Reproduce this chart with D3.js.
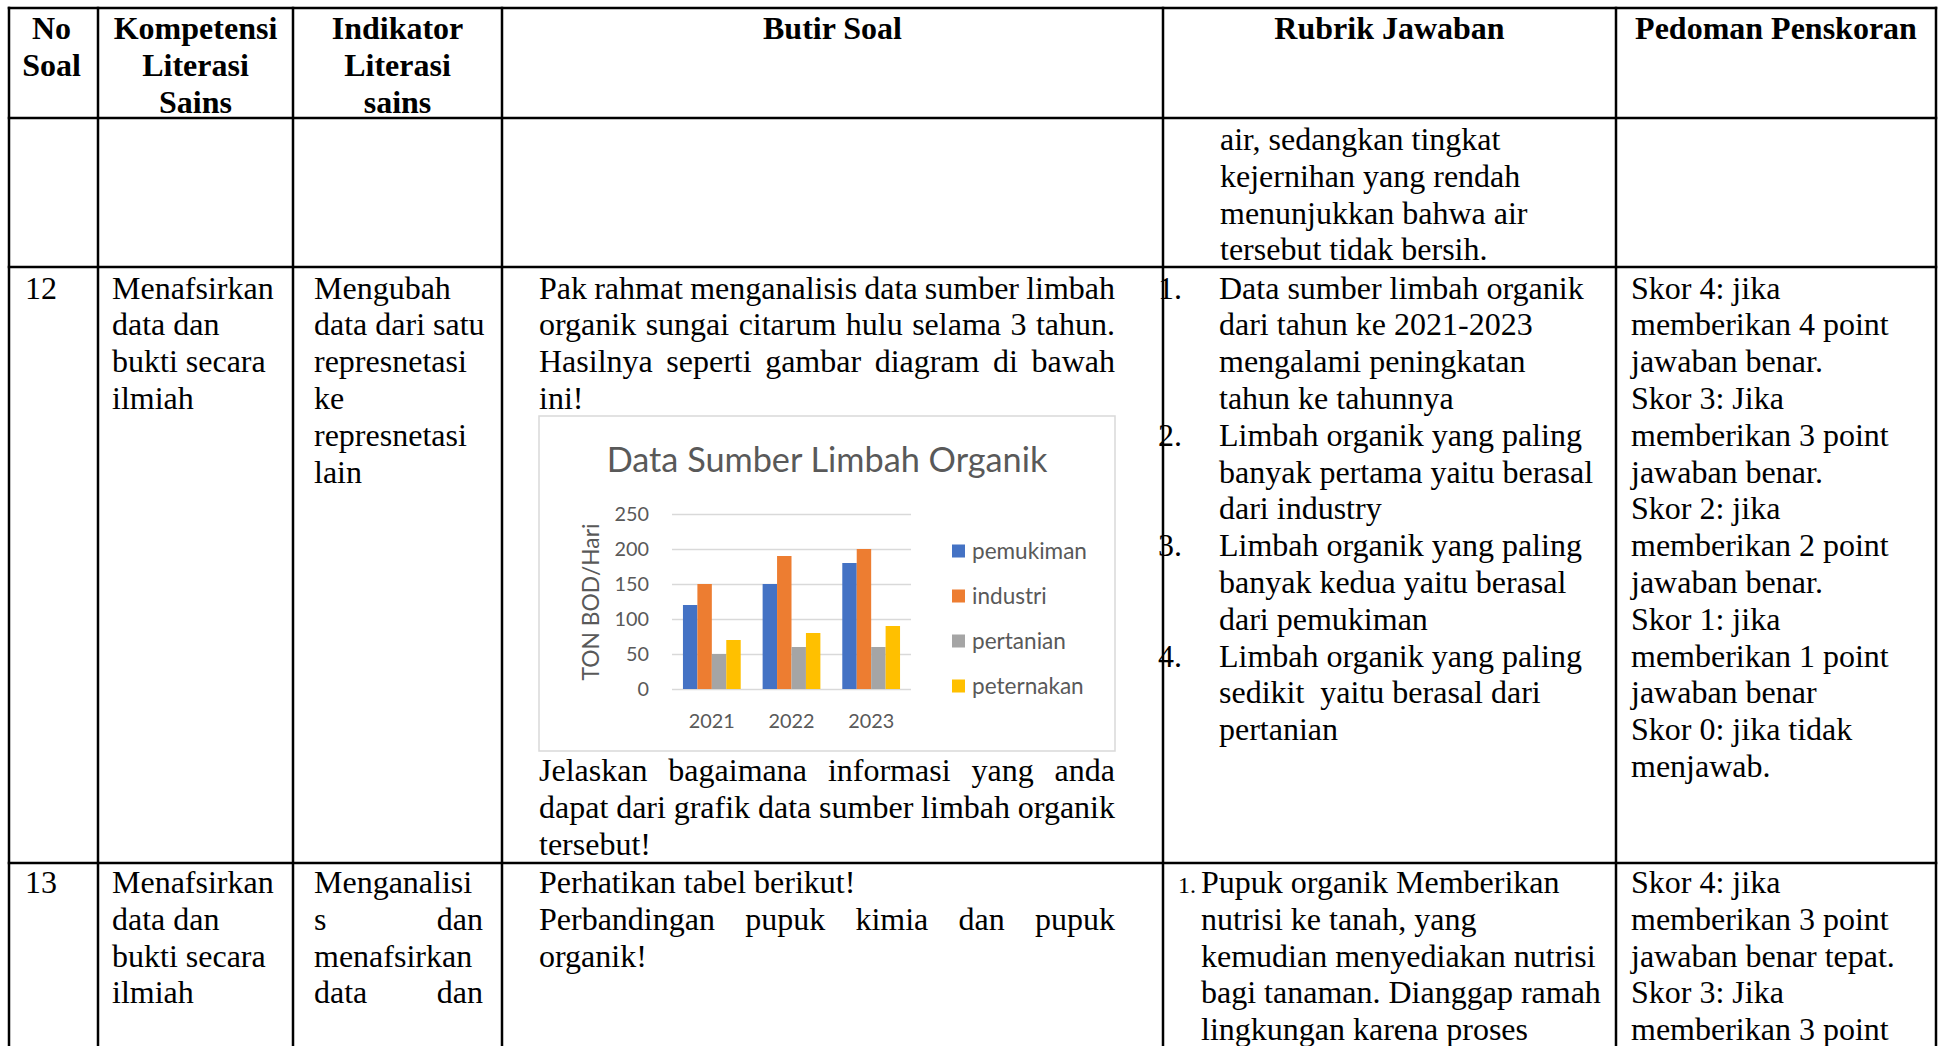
<!DOCTYPE html>
<html><head><meta charset="utf-8">
<script src="https://cdn.jsdelivr.net/npm/d3@7"></script>
<style>html,body{margin:0;padding:0;background:#fff;overflow:hidden}svg{display:block}</style>
</head><body>
<svg id="c" width="1942" height="1046"></svg>
<script>
// ---------- chart data ----------
const years = ["2021", "2022", "2023"];
const seriesNames = ["pemukiman", "industri", "pertanian", "peternakan"];
const pemukiman = [120, 150, 180];
const industri = [150, 190, 200];
const pertanian = [50, 60, 60];
const peternakan = [70, 80, 90];
const seriesColors = ["#4472C4", "#ED7D31", "#A5A5A5", "#FFC000"];
const yTicks = [0, 50, 100, 150, 200, 250];
const chartTitle = "Data Sumber Limbah Organik";
const yAxisTitle = "TON BOD/Hari";

// ---------- table text ----------
const headers = [["No", "Soal"], ["Kompetensi", "Literasi", "Sains"], ["Indikator", "Literasi", "sains"], ["Butir Soal"], ["Rubrik Jawaban"], ["Pedoman Penskoran"]];
const rubrikCont = ["air, sedangkan tingkat", "kejernihan yang rendah", "menunjukkan bahwa air", "tersebut tidak bersih."];
const no12 = ["12"];
const kompetensi12 = ["Menafsirkan", "data dan", "bukti secara", "ilmiah"];
const indikator12 = ["Mengubah", "data dari satu", "represnetasi", "ke", "represnetasi", "lain"];
const butir12Top = [{t: "Pak rahmat menganalisis data sumber limbah", j: 1}, {t: "organik sungai citarum hulu selama 3 tahun.", j: 1}, {t: "Hasilnya seperti gambar diagram di bawah", j: 1}, {t: "ini!"}];
const butir12Bottom = [{t: "Jelaskan bagaimana informasi yang anda", j: 1}, {t: "dapat dari grafik data sumber limbah organik", j: 1}, {t: "tersebut!"}];
const rubrik12 = [
  {n: "1.", t: ["Data sumber limbah organik", "dari tahun ke 2021-2023", "mengalami peningkatan", "tahun ke tahunnya"]},
  {n: "2.", t: ["Limbah organik yang paling", "banyak pertama yaitu berasal", "dari industry"]},
  {n: "3.", t: ["Limbah organik yang paling", "banyak kedua yaitu berasal", "dari pemukiman"]},
  {n: "4.", t: ["Limbah organik yang paling", "sedikit  yaitu berasal dari", "pertanian"]}
];
const pedoman12 = ["Skor 4: jika", "memberikan 4 point", "jawaban benar.", "Skor 3: Jika", "memberikan 3 point", "jawaban benar.", "Skor 2: jika", "memberikan 2 point", "jawaban benar.", "Skor 1: jika", "memberikan 1 point", "jawaban benar", "Skor 0: jika tidak", "menjawab."];
const no13 = ["13"];
const kompetensi13 = ["Menafsirkan", "data dan", "bukti secara", "ilmiah"];
const indikator13 = [{t: "Menganalisi"}, {t: "s dan", j: 1}, {t: "menafsirkan"}, {t: "data dan", j: 1}];
const butir13 = [{t: "Perhatikan tabel berikut!"}, {t: "Perbandingan pupuk kimia dan pupuk", j: 1}, {t: "organik!"}];
const rubrik13 = ["Pupuk organik Memberikan", "nutrisi ke tanah, yang", "kemudian menyediakan nutrisi", "bagi tanaman. Dianggap ramah", "lingkungan karena proses"];
const pedoman13 = ["Skor 4: jika", "memberikan 3 point", "jawaban benar tepat.", "Skor 3: Jika", "memberikan 3 point"];

// ---------- helpers ----------
const svg = d3.select("#c");
const BODY = "'Liberation Serif','Times New Roman',serif";
const CHARTF = "Lato,'Open Sans',sans-serif";
const colX = [9, 98, 293, 502, 1163, 1616, 1936];
const rowY = [8, 118, 267, 863];
const LH = 36.8;

const textLayer = svg.append("g");

function put(g, str, x, y, o = {}) {
  return g.append("text")
    .attr("x", x).attr("y", y)
    .attr("font-family", o.family || BODY)
    .attr("font-size", o.size || 32)
    .attr("font-weight", o.weight || "normal")
    .attr("fill", o.fill || "#000")
    .attr("text-anchor", o.anchor || "start")
    .style("white-space", "pre")
    .text(str);
}
function justify(g, str, x0, x1, y, o = {}) {
  const words = str.split(/\s+/).filter(Boolean);
  const els = words.map(w => put(g, w, 0, y, o));
  const ws = els.map(e => e.node().getComputedTextLength());
  const gap = words.length > 1 ? (x1 - x0 - d3.sum(ws)) / (words.length - 1) : 0;
  let cx = x0;
  els.forEach((e, i) => { e.attr("x", cx); cx += ws[i] + gap; });
}
function block(g, lines, x, y0, o = {}) {
  lines.forEach((ln, i) => {
    const y = y0 + i * LH;
    const s = typeof ln === "string" ? ln : ln.t;
    if (ln.j) justify(g, s, x, o.x1, y, o); else put(g, s, x, y, o);
  });
}

// ---------- header ----------
headers.forEach((lines, c) => {
  let cx = (colX[c] + colX[c + 1]) / 2;
  if (c === 0) cx -= 2;
  lines.forEach((s, i) => put(textLayer, s, cx, 38.5 + i * 37, {weight: "bold", anchor: "middle"}));
});

// ---------- continuation row ----------
block(textLayer, rubrikCont, 1220, 150);

// ---------- row 12 ----------
const r12 = 298.5;
block(textLayer, no12, 25, r12);
block(textLayer, kompetensi12, 112, r12);
block(textLayer, indikator12, 314, r12);
block(textLayer, butir12Top, 539, r12, {x1: 1115});
block(textLayer, butir12Bottom, 539, 781, {x1: 1115});
let li = 0;
rubrik12.forEach(item => {
  put(textLayer, item.n, 1158, r12 + li * LH);
  item.t.forEach(s => { put(textLayer, s, 1219, r12 + li * LH); li++; });
});
block(textLayer, pedoman12, 1631, r12);

// ---------- row 13 ----------
const r13 = 893;
block(textLayer, no13, 25, r13);
block(textLayer, kompetensi13, 112, r13);
block(textLayer, indikator13, 314, r13, {x1: 483});
block(textLayer, butir13, 539, r13, {x1: 1115});
put(textLayer, "1.", 1178, r13, {size: 24});
block(textLayer, rubrik13, 1201, r13);
block(textLayer, pedoman13, 1631, r13);

// ---------- embedded chart ----------
const chart = svg.append("g");
chart.append("rect").attr("x", 539).attr("y", 416).attr("width", 576).attr("height", 335)
  .attr("fill", "#fff").attr("stroke", "#D9D9D9").attr("stroke-width", 1.5);

function fitFont(sel, target) {
  const w = sel.node().getComputedTextLength();
  const fs = parseFloat(sel.attr("font-size"));
  const nfs = fs * target / w;
  sel.attr("font-size", nfs);
  return nfs;
}

const title = chart.append("text").attr("x", 827).attr("y", 472).attr("text-anchor", "middle")
  .attr("font-family", CHARTF).attr("font-size", 30).attr("fill", "#595959").text(chartTitle);
fitFont(title, 441);

const x0 = d3.scaleBand().domain(years).range([672, 911]).paddingInner(0.275).paddingOuter(0.1375);
const x1 = d3.scaleBand().domain(seriesNames).range([0, x0.bandwidth()]);
const y = d3.scaleLinear().domain([0, 250]).range([689, 514]);

// measure tick font
const probe = chart.append("text").attr("font-family", CHARTF).attr("font-size", 20).text("2021");
const tickFs = fitFont(probe, 46);
probe.remove();

const yAxis = chart.append("g").attr("transform", "translate(672,0)")
  .call(d3.axisLeft(y).tickValues(yTicks).tickSize(-(911 - 672)).tickPadding(23).tickFormat(d3.format("d")));
yAxis.select(".domain").remove();
yAxis.selectAll(".tick line").attr("stroke", "#D9D9D9").attr("stroke-width", 1.5);
yAxis.selectAll(".tick text").attr("font-family", CHARTF).attr("font-size", tickFs).attr("fill", "#595959");

const xAxis = chart.append("g").attr("transform", "translate(0,689)")
  .call(d3.axisBottom(x0).tickSize(0).tickPadding(25));
xAxis.select(".domain").remove();
xAxis.selectAll(".tick text").attr("font-family", CHARTF).attr("font-size", tickFs).attr("fill", "#595959");

const seriesData = [pemukiman, industri, pertanian, peternakan];
const groups = chart.append("g").selectAll("g").data(years).join("g")
  .attr("transform", d => `translate(${x0(d)},0)`);
groups.selectAll("rect").data((d, yi) => seriesNames.map((s, si) => ({s, si, v: seriesData[si][yi]})))
  .join("rect")
  .attr("x", d => x1(d.s)).attr("width", x1.bandwidth())
  .attr("y", d => y(d.v)).attr("height", d => y(0) - y(d.v))
  .attr("fill", d => seriesColors[d.si]);

const yt = chart.append("text").attr("transform", "translate(590,602) rotate(-90)")
  .attr("text-anchor", "middle").attr("dominant-baseline", "central")
  .attr("font-family", CHARTF).attr("font-size", 20).attr("fill", "#595959").text(yAxisTitle);
fitFont(yt, 157);

const leg = chart.append("g").selectAll("g").data(seriesNames).join("g")
  .attr("transform", (d, i) => `translate(952,${551 + i * 45})`);
leg.append("rect").attr("x", 0).attr("y", -6.5).attr("width", 13).attr("height", 13)
  .attr("fill", (d, i) => seriesColors[i]);
const legTexts = leg.append("text").attr("x", 20).attr("dy", "0.35em")
  .attr("font-family", CHARTF).attr("font-size", 20).attr("fill", "#595959").text(d => d);
const legFs = fitFont(d3.select(legTexts.nodes()[0]), 115);
legTexts.attr("font-size", legFs);

// ---------- table lines (on top) ----------
const lines = svg.append("g").attr("stroke", "#000").attr("stroke-width", 2.5);
colX.forEach(x => lines.append("line").attr("x1", x).attr("x2", x).attr("y1", rowY[0] - 1.25).attr("y2", 1046));
rowY.forEach(yy => lines.append("line").attr("x1", colX[0] - 1.25).attr("x2", colX[6] + 1.25).attr("y1", yy).attr("y2", yy));
</script>
</body></html>
